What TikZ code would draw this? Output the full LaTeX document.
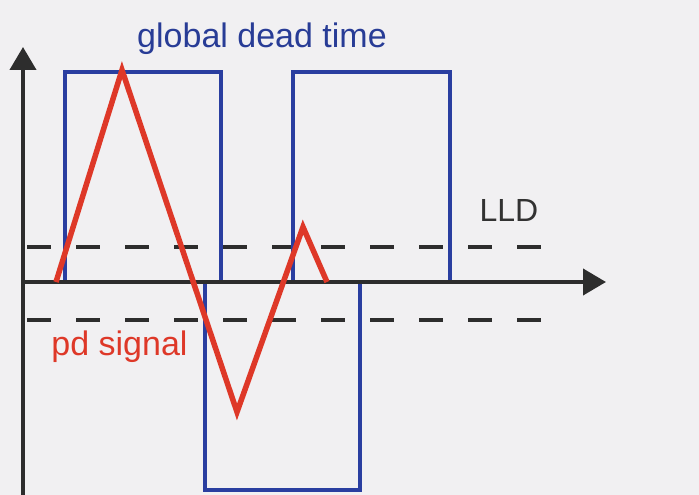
\documentclass[tikz,border=0pt]{standalone}
\usepackage{fontspec}
\setmainfont{Liberation Sans}
\usetikzlibrary{arrows.meta}
\definecolor{paper}{RGB}{241,240,242}
\definecolor{axisgray}{RGB}{45,45,45}
\definecolor{boxblue}{RGB}{42,62,160}
\definecolor{sigred}{RGB}{222,56,40}
\definecolor{txtblue}{RGB}{40,60,150}
\definecolor{txtgray}{RGB}{50,50,50}
\tikzset{
  axisline/.style={line width=4pt, draw=axisgray, -{Triangle[length=23pt,width=26pt]}},
  lldline/.style={line width=4pt, draw=axisgray, dash pattern=on 24pt off 25pt},
  gatebox/.style={line width=4pt, draw=boxblue, line join=miter},
  signal/.style={line width=5.5pt, draw=sigred, line join=miter, miter limit=10},
  lbl/.style={font=\fontsize{34}{40}\selectfont, inner sep=0pt, anchor=base}
}
\begin{document}
\begin{tikzpicture}[x=1pt,y=-1pt]
\fill[paper] (0,0) rectangle (699,495);
\useasboundingbox (0,0) rectangle (699,495);
% coordinates
\coordinate (yb) at (23,495);
\coordinate (yt) at (23,47);
\coordinate (xl) at (23,282);
\coordinate (xr) at (606,282);
% dashed thresholds
\coordinate (u1) at (27,247); \coordinate (u2) at (545,247);
\coordinate (l1) at (27,320); \coordinate (l2) at (545,320);
\draw[lldline] (u1) -- (u2);
\draw[lldline] (l1) -- (l2);
% gate boxes
\draw[gatebox] (65,282) -- (65,72) -- (221,72) -- (221,282);
\draw[gatebox] (293,282) -- (293,72) -- (450,72) -- (450,282);
\draw[gatebox] (205,282) -- (205,490) -- (360,490) -- (360,282);
% axes
\draw[axisline] (yb) -- (yt);
\draw[axisline] (xl) -- (xr);
% signal
\coordinate (s0) at (56,282);
\coordinate (s1) at (122,70);
\coordinate (s2) at (237,412);
\coordinate (s3) at (303,227);
\coordinate (s4) at (327,282);
\draw[signal] (s0) -- (s1) -- (s2) -- (s3) -- (s4);
% labels
\node[lbl, text=txtblue] (gdt) at (262,48) {global dead time};
\node[lbl, text=txtgray, font=\fontsize{32}{38}\selectfont] (lld) at (509,221) {LLD};
\node[lbl, text=sigred] (pds) at (119.5,355) {pd signal};
\end{tikzpicture}
\end{document}
